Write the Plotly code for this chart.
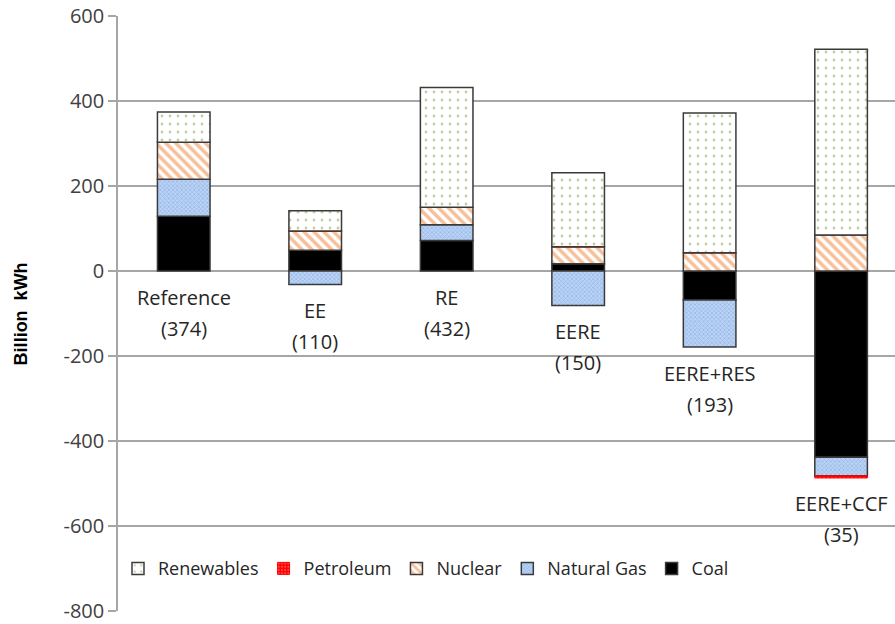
import plotly.graph_objects as go

# Scenarios and net change in generation by fuel (billion kWh)
scenarios = ["Reference", "EE", "RE", "EERE", "EERE+RES", "EERE+CCF"]
net_totals = [374, 110, 432, 150, 193, 35]

coal = [129, 49, 72, 17, -68, -438]
natural_gas = [87, -32, 37, -81, -111, -44]
nuclear = [87, 45, 41, 40, 43, 85]
petroleum = [0, 0, 0, 0, 0, -5]
renewables = [71, 48, 282, 174, 329, 437]

y_ticks = [-800, -600, -400, -200, 0, 200, 400, 600]
y_tick_text = ["-800", "-600", "-400", "-200", "0", "200", "400", "600"]

FONT = "Open Sans"
EDGE = "#3a3a3a"

fig = go.Figure()

fig.add_bar(
    name="Coal", x=scenarios, y=coal,
    marker=dict(color="#000000", line=dict(color=EDGE, width=1.5)),
)
fig.add_bar(
    name="Natural Gas", x=scenarios, y=natural_gas,
    marker=dict(
        color="#a9c5ee", line=dict(color=EDGE, width=1.5),
        pattern=dict(shape="x", fgcolor="#6f9de2", bgcolor="#bcd3f3",
                     size=3, solidity=0.45),
    ),
)
fig.add_bar(
    name="Nuclear", x=scenarios, y=nuclear,
    marker=dict(
        color="white", line=dict(color=EDGE, width=1.5),
        pattern=dict(shape="\\", fgcolor="#ee7f32", bgcolor="white",
                     size=7, solidity=0.5),
    ),
)
fig.add_bar(
    name="Petroleum", x=scenarios, y=petroleum,
    marker=dict(
        color="#ff0000", line=dict(color="#ff0000", width=1),
        pattern=dict(shape=".", fgcolor="#ff9a9a", bgcolor="#ff0000",
                     size=4, solidity=0.3),
    ),
)
fig.add_bar(
    name="Renewables", x=scenarios, y=renewables,
    marker=dict(
        color="white", line=dict(color=EDGE, width=1.5),
        pattern=dict(shape=".", fgcolor="#7fa34a", bgcolor="white",
                     size=8, solidity=0.1),
    ),
)

# Scenario name and net total under the lowest edge of each bar
for i, name in enumerate(scenarios):
    low = sum(v for v in (coal[i], natural_gas[i], nuclear[i], petroleum[i], renewables[i]) if v < 0)
    for text, shift in ((name, -26), (f"({net_totals[i]})", -57)):
        fig.add_annotation(
            x=name, y=low, text=text, showarrow=False,
            yanchor="middle", xanchor="center", yshift=shift,
            font=dict(family=FONT, size=20, color="#262626"),
        )

# Rotated y-axis title
fig.add_annotation(
    xref="paper", yref="paper", x=-0.125, y=0.5,
    text="<b>Billion  kWh</b>", textangle=-90, showarrow=False,
    xanchor="center", yanchor="middle",
    font=dict(family="Arial", size=18, color="#000000"),
)

fig.update_layout(
    barmode="relative",
    bargap=0.6,
    width=895, height=624,
    margin=dict(l=118, r=0, t=16, b=13),
    paper_bgcolor="white", plot_bgcolor="white",
    font=dict(family=FONT, size=16, color="#404040"),
    showlegend=True,
    legend=dict(
        orientation="h", traceorder="reversed",
        x=0.0, y=0.04, xanchor="left", yanchor="bottom",
        bgcolor="rgba(255,255,255,0)",
        font=dict(family=FONT, size=18, color="#262626"),
        itemwidth=30, tracegroupgap=0,
    ),
    xaxis=dict(
        range=[-0.5, 5.41], showticklabels=False, showgrid=False,
        zeroline=False, showline=False, ticks="",
    ),
    yaxis=dict(
        range=[-800, 600], tickvals=y_ticks, ticktext=y_tick_text,
        showgrid=True, gridcolor="#a6a6a6", gridwidth=1.5,
        zeroline=True, zerolinecolor="#a6a6a6", zerolinewidth=1.5,
        showline=True, linecolor="#a6a6a6", linewidth=1.5,
        ticks="outside", ticklen=8, tickcolor="#a6a6a6", tickwidth=1.5,
        tickfont=dict(family=FONT, size=20, color="#404040"),
    ),
)

fig.write_html("out.html")
